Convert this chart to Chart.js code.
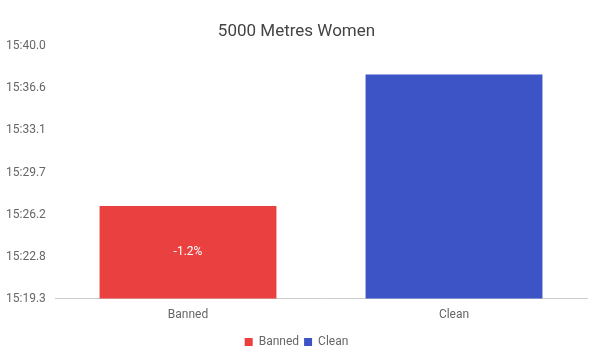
<!DOCTYPE html>
<html>
<head>
<meta charset="utf-8">
<script src="https://cdn.jsdelivr.net/npm/chart.js@4.4.1/dist/chart.umd.min.js"></script>
<style>
html,body{margin:0;padding:0;background:#fff;}
#wrap{width:600px;height:355px;position:relative;}
</style>
</head>
<body>
<div id="wrap"><canvas id="c" width="600" height="355"></canvas></div>
<script>
// Data (times in seconds)
const categories = ['Banned', 'Clean'];
const seriesNames = ['Banned', 'Clean'];
const bannedValues = [926.9, null];
const cleanValues = [null, 937.7];
const tickValues = [919.3, 922.75, 926.2, 929.65, 933.1, 936.55, 940.0];
const tickLabels = ['15:19.3', '15:22.8', '15:26.2', '15:29.7', '15:33.1', '15:36.6', '15:40.0'];
const barLabels = ['-1.2%', ''];
const colors = ['#ea4040', '#3d54c7'];

const barLabelPlugin = {
  id: 'barLabel',
  afterDatasetsDraw(chart) {
    const ctx = chart.ctx;
    const xs = chart.scales.x, ys = chart.scales.y;
    categories.forEach((cat, i) => {
      const txt = barLabels[i];
      if (!txt || bannedValues[i] == null) return;
      const x = xs.getPixelForValue(i);
      const top = ys.getPixelForValue(bannedValues[i]);
      const base = ys.bottom;
      ctx.save();
      ctx.fillStyle = '#ffffff';
      ctx.font = '12px Roboto';
      ctx.textAlign = 'center';
      ctx.textBaseline = 'middle';
      ctx.fillText(txt, x, (top + base) / 2);
      ctx.restore();
    });
  }
};

new Chart(document.getElementById('c'), {
  type: 'bar',
  data: {
    labels: categories,
    datasets: [
      { label: seriesNames[0], data: bannedValues, backgroundColor: colors[0], borderWidth: 0 },
      { label: seriesNames[1], data: cleanValues, backgroundColor: colors[1], borderWidth: 0 }
    ]
  },
  options: {
    responsive: false,
    animation: false,
    devicePixelRatio: 1,
    layout: { padding: { left: 6, right: 13, top: 22, bottom: -3 } },
    datasets: { bar: { grouped: false, categoryPercentage: 1, barPercentage: 0.665, skipNull: true } },
    plugins: {
      title: {
        display: true, text: '5000 Metres Women',
        font: { family: 'Roboto', size: 17, weight: 'normal' },
        color: '#444444', padding: { top: 0, bottom: 4 }
      },
      legend: {
        display: true, position: 'bottom',
        labels: { boxWidth: 8, boxHeight: 8, font: { family: 'Roboto', size: 12 }, color: '#666666', padding: 5 }
      },
      tooltip: { enabled: false }
    },
    scales: {
      x: {
        grid: { display: false, drawTicks: false },
        border: { display: true, color: '#cccccc' },
        ticks: { font: { family: 'Roboto', size: 12 }, color: '#666666', padding: 9 }
      },
      y: {
        min: tickValues[0], max: tickValues[tickValues.length - 1],
        grid: { display: false, drawTicks: false },
        border: { display: false },
        afterBuildTicks(scale) { scale.ticks = tickValues.map(v => ({ value: v })); },
        afterFit(scale) { scale.width = 49; },
        ticks: {
          crossAlign: 'far',
          font: { family: 'Roboto', size: 12 }, color: '#666666',
          callback: (v, i) => tickLabels[i]
        }
      }
    }
  },
  plugins: [barLabelPlugin]
});
</script>
</body>
</html>
